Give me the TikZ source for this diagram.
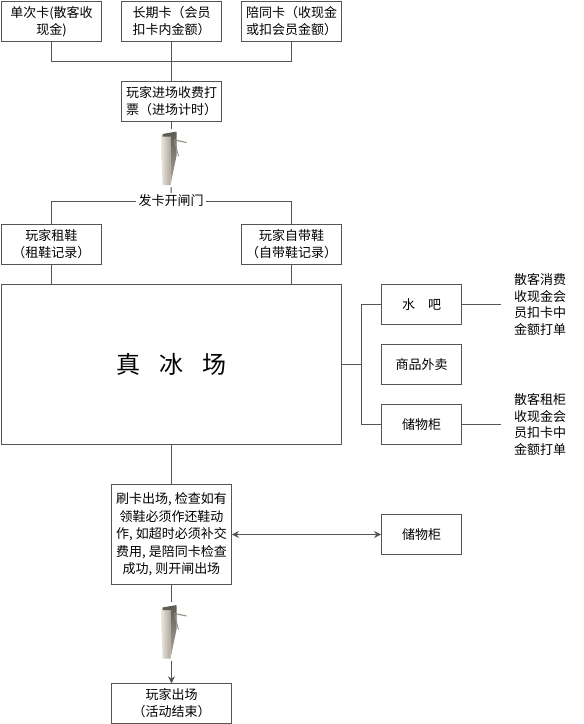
\documentclass[tikz,border=0pt]{standalone}
\usepackage{fontspec}
\setmainfont{Noto Sans CJK SC}
\usetikzlibrary{arrows.meta}

\tikzset{
    flowbox/.style={draw=linegray, line width=0.9pt, minimum width=100, minimum height=39.5, inner sep=0pt, align=center, font=\fontsize{13}{17}\selectfont},
    sidebox/.style={flowbox, minimum width=80},
    widebox/.style={flowbox, minimum width=120},
    notetext/.style={minimum width=77, inner sep=0pt, align=center, font=\fontsize{13}{16.8}\selectfont},
    gatenode/.style={minimum width=27, minimum height=58, inner sep=0pt},
    gatepic/.pic={
        \shade[left color=gateleft, right color=gateright] (-10.5,-23) -- (-1,-23) -- (-1,27) -- (-9,27) -- cycle;
        \shade[top color=gatedark, bottom color=gateright] (-1,-23) -- (5,-26) -- (5,-2) -- (-1,27) -- cycle;
        \fill[gatedark] (-9,-24) -- (5,-26.5) -- (-1,-21.5) -- (-9,-21.5) -- cycle;
        \draw[gatearm, line width=1.1pt] (3,-18) -- (15,-15.5);
        \draw[gatearm, line width=0.9pt] (3,-17) -- (7,-2);
    }
}

\begin{document}
\begin{tikzpicture}[x=1pt, y=-1pt, >={Stealth[length=7pt, width=7pt]}]
    \definecolor{linegray}{RGB}{85, 85, 85}
    \definecolor{gateleft}{RGB}{236, 232, 222}
    \definecolor{gateright}{RGB}{175, 168, 155}
    \definecolor{gatedark}{RGB}{95, 92, 85}
    \definecolor{gatearm}{RGB}{150, 140, 130}
    \useasboundingbox (0,0) rectangle (584,724);

    % Card types
    \node[flowbox] (cardsingle) at (51.5,21.5) {单次卡(散客收\\现金)};
    \node[flowbox] (cardlong) at (171.5,21.5) {长期卡（会员\\扣卡内金额）};
    \node[flowbox] (cardcompanion) at (291.5,21.5) {陪同卡（收现金\\或扣会员金额）};
    \coordinate (cardjoin) at (171.5,61);

    % Entry
    \node[flowbox] (ticket) at (171.5,101.5) {玩家进场收费打\\票（进场计时）};
    \node[gatenode] (gatein) at (171.5,158) {};
    \pic at (gatein.center) {gatepic};
    \node[inner sep=2pt, font=\fontsize{13}{17}\selectfont] (gatelabel) at (171,201) {发卡开闸门};

    % Shoes
    \node[flowbox] (rentshoe) at (51.5,244.5) {玩家租鞋\\（租鞋记录）};
    \node[flowbox] (ownshoe) at (291.5,244.5) {玩家自带鞋\\（自带鞋记录）};

    % Rink
    \node[draw=linegray, line width=0.9pt, minimum width=340, minimum height=159.5, inner sep=0pt, font=\fontsize{24}{28}\selectfont] (rink) at (171.5,364.5) {真\hspace{0.78em}冰\hspace{0.78em}场};
    \coordinate (rinkhub) at (361.5,364.5);

    % Services
    \node[sidebox] (waterbar) at (421.5,304.5) {水\hspace{1em}吧};
    \node[sidebox] (shop) at (421.5,364.5) {商品外卖};
    \node[sidebox] (locker) at (421.5,424.5) {储物柜};
    \node[notetext] (waternote) at (540,304.5) {散客消费\\收现金会\\员扣卡中\\金额打单};
    \node[notetext] (lockernote) at (540,424.5) {散客租柜\\收现金会\\员扣卡中\\金额打单};

    % Exit
    \node[widebox, minimum height=100, font=\fontsize{13}{17.6}\selectfont] (exitcheck) at (171.5,534.5) {刷卡出场, 检查如有\\领鞋必须作还鞋动\\作, 如超时必须补交\\费用, 是陪同卡检查\\成功, 则开闸出场};
    \node[sidebox] (lockerexit) at (421.5,534.5) {储物柜};
    \node[gatenode] (gateout) at (171.5,631.5) {};
    \pic at (gateout.center) {gatepic};
    \node[widebox] (finish) at (171.5,703.5) {玩家出场\\（活动结束）};

    % Connectors
    \draw[linegray, line width=0.9pt] (cardsingle) |- (cardjoin);
    \draw[linegray, line width=0.9pt] (cardcompanion) |- (cardjoin);
    \draw[linegray, line width=0.9pt] (cardlong) -- (ticket);
    \draw[linegray, line width=0.9pt] (ticket) -- (gatein);
    \draw[linegray, line width=0.9pt] (gatein) -- (gatelabel);
    \draw[linegray, line width=0.9pt] (gatelabel) -| (rentshoe);
    \draw[linegray, line width=0.9pt] (gatelabel) -| (ownshoe);
    \draw[linegray, line width=0.9pt] (rentshoe) -- (rentshoe |- rink.north);
    \draw[linegray, line width=0.9pt] (ownshoe) -- (ownshoe |- rink.north);
    \draw[linegray, line width=0.9pt] (rink) -- (rinkhub);
    \draw[linegray, line width=0.9pt] (rinkhub) |- (waterbar);
    \draw[linegray, line width=0.9pt] (rinkhub) |- (locker);
    \draw[linegray, line width=0.9pt] (waterbar) -- (waternote);
    \draw[linegray, line width=0.9pt] (locker) -- (lockernote);
    \draw[linegray, line width=0.9pt] (rink) -- (exitcheck);
    \draw[<->, linegray, line width=0.9pt] (exitcheck) -- (lockerexit);
    \draw[linegray, line width=0.9pt] (exitcheck) -- (gateout);
    \draw[->, linegray, line width=0.9pt] (gateout) -- (finish);
\end{tikzpicture}
\end{document}
